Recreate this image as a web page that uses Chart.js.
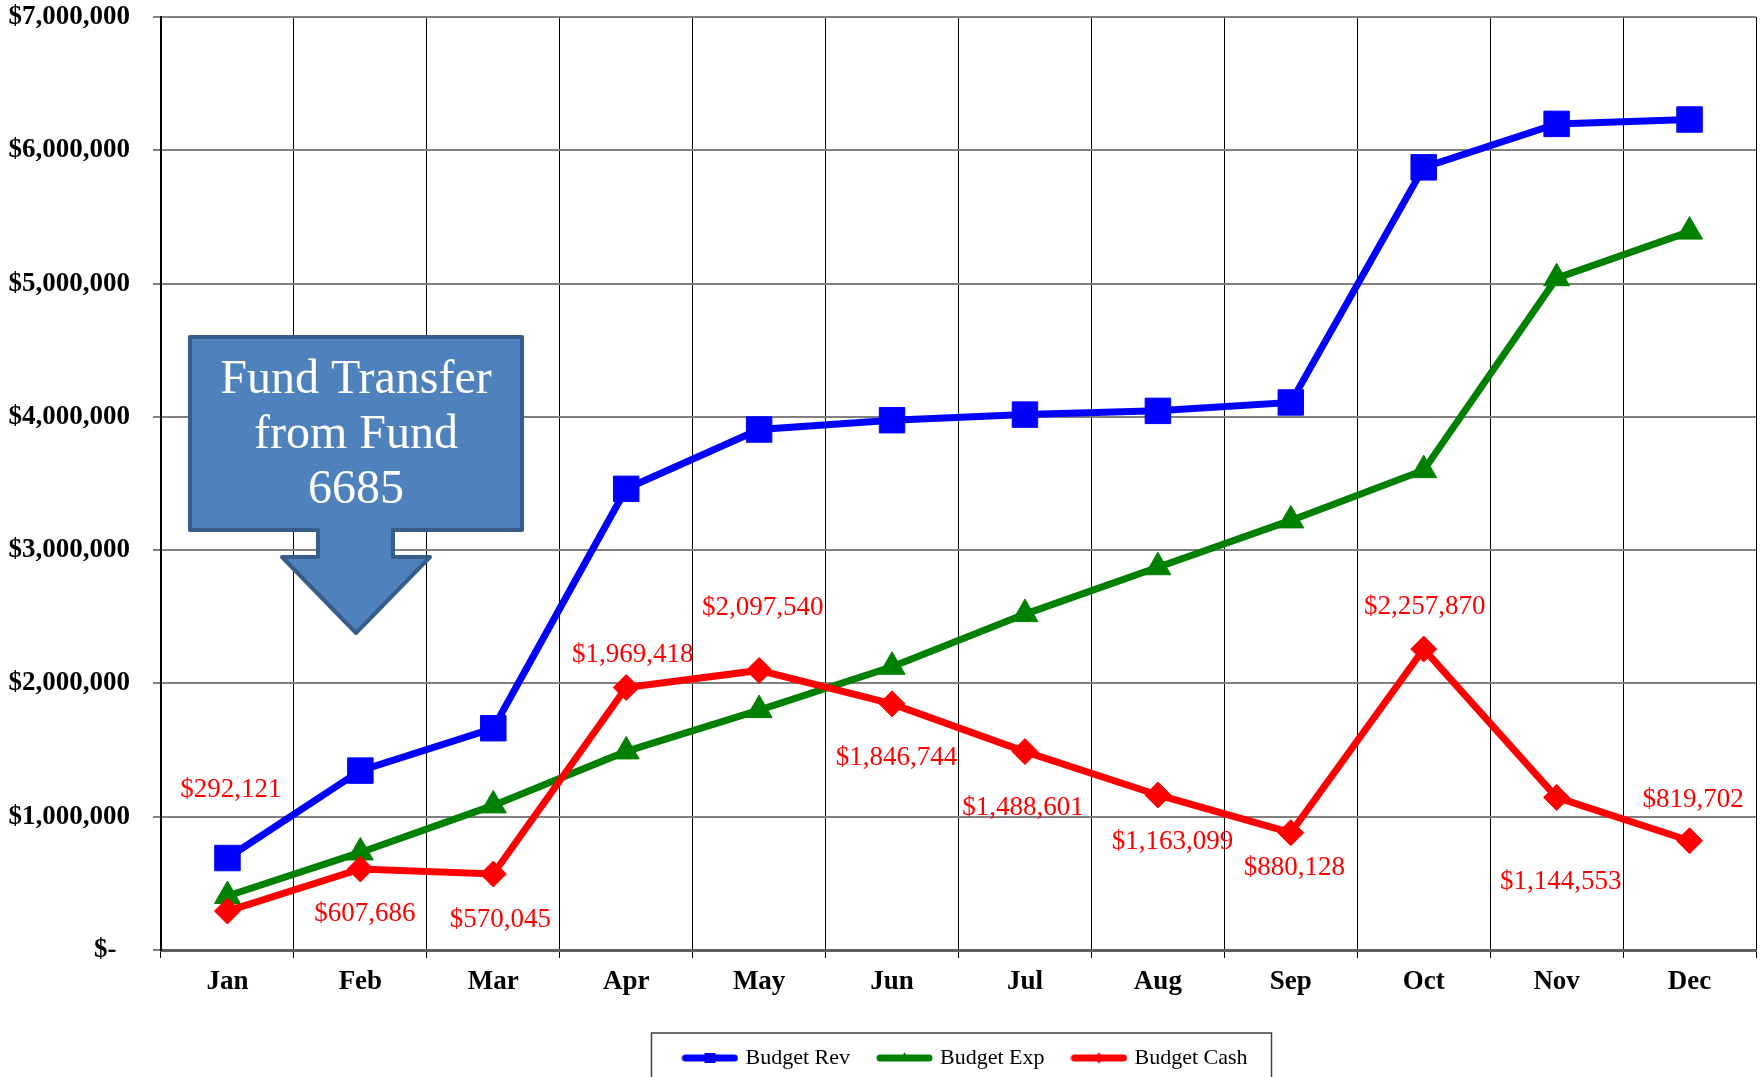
<!DOCTYPE html>
<html>
<head>
<meta charset="utf-8">
<script src="https://cdn.jsdelivr.net/npm/chart.js@4/dist/chart.umd.min.js"></script>
<style>
  html, body { margin: 0; padding: 0; background: #ffffff; }
  #wrap { width: 1760px; height: 1077px; }
</style>
</head>
<body>
<div id="wrap"><canvas id="c" width="1760" height="1077"></canvas></div>
<script>
// ---- data ----
const months = ['Jan','Feb','Mar','Apr','May','Jun','Jul','Aug','Sep','Oct','Nov','Dec'];
const budgetRev  = [690000, 1346000, 1664000, 3460000, 3905000, 3975000, 4017000, 4045000, 4108000, 5872000, 6198000, 6231000];
const budgetExp  = [405000, 732000, 1085000, 1490000, 1800000, 2125000, 2520000, 2872000, 3223000, 3600000, 5040000, 5390000];
const budgetCash = [292121, 607686, 570045, 1969418, 2097540, 1846744, 1488601, 1163099, 880128, 2257870, 1144553, 819702];
const seriesNames = ['Budget Rev', 'Budget Exp', 'Budget Cash'];
const yTickLabels = ['$-  ', '$1,000,000', '$2,000,000', '$3,000,000', '$4,000,000', '$5,000,000', '$6,000,000', '$7,000,000'];
const calloutLines = ['Fund Transfer', 'from Fund', '6685'];

const SERIF = "'Liberation Serif', 'Times New Roman', Times, serif";
Chart.defaults.font.family = SERIF;
Chart.defaults.color = '#000000';

function fmtMoney(v) {
  return '$' + v.toLocaleString('en-US');
}

// legend symbols: thick line with small marker
function legendSymbol(color, shape) {
  const c = document.createElement('canvas');
  c.width = 57; c.height = 16;
  const g = c.getContext('2d');
  g.strokeStyle = color; g.fillStyle = color;
  g.lineWidth = 7; g.lineCap = 'round';
  g.beginPath(); g.moveTo(4, 8); g.lineTo(53, 8); g.stroke();
  g.beginPath();
  if (shape === 'rect') {
    g.rect(23, 3, 11, 10);
  } else if (shape === 'tri') {
    g.moveTo(28.5, 2); g.lineTo(33, 11); g.lineTo(24, 11); g.closePath();
  } else {
    g.moveTo(28.5, 2); g.lineTo(32, 8); g.lineTo(28.5, 14); g.lineTo(25, 8); g.closePath();
  }
  g.fill();
  return c;
}
const legendSymbols = [legendSymbol('#0000FF', 'rect'), legendSymbol('#008000', 'tri'), legendSymbol('#FF0000', 'diamond')];

// data labels for the cash series (offsets from each point, px)
const cashLabelPlugin = {
  id: 'cashLabels',
  afterDatasetsDraw(chart, args, opts) {
    const meta = chart.getDatasetMeta(2);
    const ds = chart.data.datasets[2];
    const ctx = chart.ctx;
    ctx.save();
    ctx.font = '27px ' + SERIF;
    ctx.fillStyle = '#FF0000';
    ctx.textAlign = 'center';
    ctx.textBaseline = 'middle';
    meta.data.forEach((pt, i) => {
      const off = opts.offsets[i];
      ctx.fillText(fmtMoney(ds.data[i]), pt.x + off[0], pt.y + off[1]);
    });
    ctx.restore();
  }
};

// callout arrow + legend frame
const decorPlugin = {
  id: 'decor',
  afterUpdate(chart) {
    const lg = chart.legend;
    if (lg) {
      lg.left += 8; lg.right += 8;
      lg.top += 2; lg.bottom += 2;
      lg.adjustHitBoxes();
    }
  },
  afterDraw(chart) {
    const ctx = chart.ctx;
    // callout shape
    ctx.save();
    ctx.beginPath();
    ctx.moveTo(190, 337);
    ctx.lineTo(522, 337);
    ctx.lineTo(522, 530);
    ctx.lineTo(393, 530);
    ctx.lineTo(393, 557);
    ctx.lineTo(430, 557);
    ctx.lineTo(356, 633);
    ctx.lineTo(282, 557);
    ctx.lineTo(318, 557);
    ctx.lineTo(318, 530);
    ctx.lineTo(190, 530);
    ctx.closePath();
    ctx.fillStyle = '#4F81BD';
    ctx.fill();
    ctx.lineJoin = 'round';
    ctx.lineWidth = 4;
    ctx.strokeStyle = '#385D8A';
    ctx.stroke();
    ctx.fillStyle = '#FFFFFF';
    ctx.font = '48px ' + SERIF;
    ctx.textAlign = 'center';
    ctx.textBaseline = 'alphabetic';
    calloutLines.forEach((t, i) => ctx.fillText(t, 356, 393 + i * 55));
    ctx.restore();

    // legend frame
    const lg = chart.legend;
    if (lg && lg.legendHitBoxes && lg.legendHitBoxes.length) {
      const hb = lg.legendHitBoxes;
      const x0 = hb[0].left - 34;
      const last = hb[hb.length - 1];
      const x1 = last.left + last.width + 24;
      const y0 = lg.top + 16;
      ctx.save();
      ctx.strokeStyle = '#404040';
      ctx.lineWidth = 1.5;
      ctx.strokeRect(x0, y0, x1 - x0, chart.height + 10 - y0);
      ctx.restore();
    }
  }
};

new Chart(document.getElementById('c'), {
  type: 'line',
  data: {
    labels: months,
    datasets: [
      {
        label: seriesNames[0], data: budgetRev, order: 1,
        borderColor: '#0000FF', backgroundColor: '#0000FF',
        borderWidth: 7, pointStyle: 'rect', pointRadius: 18, pointHoverRadius: 18,
        pointBackgroundColor: '#0000FF', pointBorderColor: '#0000FF', pointBorderWidth: 1,
        tension: 0, fill: false
      },
      {
        label: seriesNames[1], data: budgetExp, order: 2,
        borderColor: '#008000', backgroundColor: '#008000',
        borderWidth: 7, pointStyle: 'triangle', pointRadius: 15, pointHoverRadius: 15,
        pointBackgroundColor: '#008000', pointBorderColor: '#008000', pointBorderWidth: 1,
        tension: 0, fill: false
      },
      {
        label: seriesNames[2], data: budgetCash, order: 0,
        borderColor: '#FF0000', backgroundColor: '#FF0000',
        borderWidth: 7, pointStyle: 'rectRot', pointRadius: 13, pointHoverRadius: 13,
        pointBackgroundColor: '#FF0000', pointBorderColor: '#FF0000', pointBorderWidth: 1,
        tension: 0, fill: false
      }
    ]
  },
  options: {
    responsive: false,
    animation: false,
    devicePixelRatio: 1,
    layout: { autoPadding: false, padding: { top: 17, left: 8, right: 4, bottom: 0 } },
    plugins: {
      tooltip: { enabled: false },
      cashLabels: {
        offsets: [[3.5,-121],[4.5,45],[7,46],[6.5,-33],[3.5,-63],[4.5,54],[-2,56],[14.5,47],[3.5,35],[1,-42],[4,84],[3.5,-41]]
      },
      legend: {
        position: 'bottom',
        fullSize: false,
        align: 'center',
        labels: {
          usePointStyle: true,
          pointStyleWidth: 49,
          padding: 30,
          color: '#000000',
          font: { size: 22, family: SERIF },
          sort: (a, b) => a.datasetIndex - b.datasetIndex,
          generateLabels(chart) {
            const items = Chart.defaults.plugins.legend.labels.generateLabels(chart);
            items.forEach(it => { it.pointStyle = legendSymbols[it.datasetIndex]; });
            return items;
          }
        }
      }
    },
    scales: {
      x: {
        offset: true,
        grid: { offset: true, color: '#000000', lineWidth: 1, tickLength: 8, drawOnChartArea: true },
        border: { display: true, color: '#606060', width: 3 },
        ticks: { font: { size: 27, weight: 'bold', family: SERIF }, color: '#000000', padding: 8, maxRotation: 0 },
        afterFit(scale) { scale.height = 65; }
      },
      y: {
        min: 0, max: 7000000,
        grid: { color: '#808080', lineWidth: 2, tickLength: 8 },
        border: { display: true, color: '#000000', width: 2 },
        ticks: {
          stepSize: 1000000,
          padding: 23,
          color: '#000000',
          font: { size: 27, weight: 'bold', family: SERIF },
          callback: (v, i) => yTickLabels[i]
        },
        afterFit(scale) { scale.width = 153; scale.paddingTop = 0; scale.paddingBottom = 0; }
      }
    }
  },
  plugins: [cashLabelPlugin, decorPlugin]
});
</script>
</body>
</html>
